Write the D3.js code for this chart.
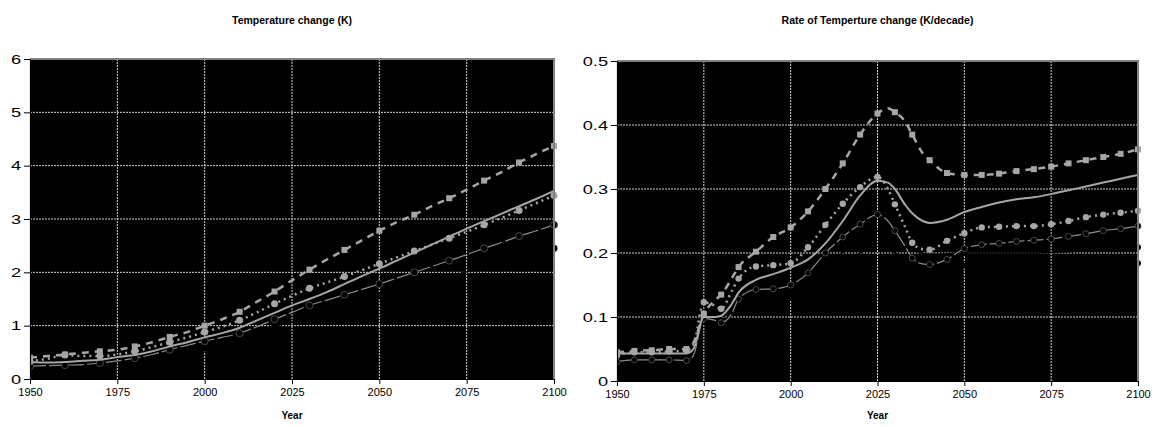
<!DOCTYPE html>
<html>
<head>
<meta charset="utf-8">
<script src="https://cdn.jsdelivr.net/npm/d3@7"></script>
<style>
  body { margin: 0; background: #fff; }
  svg { display: block; font-family: "Liberation Sans", Arial, sans-serif; }
</style>
</head>
<body>
<svg id="chart" width="1155" height="427"></svg>
<script>
// ---- Daten: Temperaturänderung (K), 5-Jahres-Schritte
const tempYears = [1950,1955,1960,1965,1970,1975,1980,1985,1990,1995,2000,2005,2010,2015,2020,2025,
  2030,2035,2040,2045,2050,2055,2060,2065,2070,2075,2080,2085,2090,2095,2100];
const tempDashSquares = [0.40,0.43,0.46,0.49,0.52,0.55,0.61,0.69,0.79,0.88,1.00,1.12,1.26,1.45,1.64,1.85,
  2.05,2.24,2.42,2.60,2.78,2.94,3.08,3.24,3.39,3.55,3.72,3.88,4.06,4.22,4.37];
const tempDotCircles = [0.33,0.38,0.45,0.43,0.43,0.46,0.52,0.60,0.69,0.78,0.88,0.98,1.10,1.25,1.41,1.56,
  1.70,1.81,1.92,2.04,2.16,2.28,2.40,2.52,2.64,2.76,2.89,3.02,3.16,3.30,3.44];
const tempSolid = [0.32,0.31,0.32,0.34,0.36,0.41,0.45,0.52,0.61,0.69,0.78,0.86,0.96,1.10,1.24,1.38,
  1.50,1.63,1.78,1.93,2.07,2.22,2.37,2.52,2.67,2.82,2.96,3.10,3.24,3.38,3.53];
const tempLongDash = [0.24,0.25,0.26,0.27,0.30,0.34,0.39,0.46,0.55,0.63,0.71,0.78,0.86,0.98,1.12,1.25,
  1.38,1.48,1.58,1.68,1.78,1.89,2.00,2.11,2.22,2.33,2.45,2.56,2.68,2.78,2.89];
const tempBlackYears = [1950,1960,1970,1980,1990,2000,2010,2020,2030,2040,2050,2060,2070,2080,2090,2100];
const tempBlack = [0.25,0.27,0.30,0.36,0.45,0.58,0.76,0.98,1.16,1.36,1.56,1.74,1.92,2.10,2.28,2.45];

// ---- Daten: Rate der Temperaturänderung (K/decade)
const rateYears = [1950,1955,1960,1965,1970,1972,1975,1978,1980,1983,1985,1990,1995,2000,2005,2010,2015,2020,
  2025,2028,2030,2033,2035,2038,2040,2045,2050,2055,2060,2065,2070,2075,2080,2085,2090,2095,2100];
const rateDashSquares = [0.045,0.047,0.048,0.050,0.050,0.060,0.105,0.125,0.135,0.160,0.178,0.202,0.225,0.240,0.265,0.300,0.340,0.385,
  0.418,0.426,0.420,0.405,0.385,0.356,0.345,0.325,0.322,0.322,0.324,0.328,0.331,0.335,0.340,0.345,0.350,0.355,0.362];
const rateDotCircles = [0.040,0.045,0.045,0.046,0.048,0.056,0.123,0.118,0.113,0.140,0.160,0.179,0.181,0.184,0.209,0.244,0.277,0.303,
  0.319,0.300,0.276,0.240,0.216,0.206,0.205,0.219,0.231,0.240,0.241,0.242,0.242,0.245,0.250,0.256,0.260,0.263,0.266];
const rateSolid = [0.043,0.043,0.043,0.043,0.043,0.050,0.100,0.100,0.102,0.120,0.138,0.158,0.167,0.177,0.190,0.215,0.250,0.290,
  0.313,0.310,0.300,0.275,0.262,0.250,0.247,0.252,0.264,0.272,0.279,0.284,0.287,0.292,0.298,0.304,0.310,0.316,0.322];
const rateLongDash = [0.030,0.033,0.033,0.033,0.032,0.040,0.098,0.095,0.091,0.105,0.128,0.143,0.144,0.150,0.169,0.200,0.225,0.245,
  0.260,0.250,0.235,0.210,0.192,0.183,0.182,0.190,0.207,0.213,0.215,0.218,0.220,0.222,0.226,0.230,0.235,0.238,0.242];
const rateBlackYears = [1950,1960,1970,1975,1980,1990,2000,2010,2020,2025,2030,2040,2050,2060,2070,2080,2090,2100];
const rateBlackA = [0.028,0.030,0.030,0.095,0.100,0.130,0.140,0.180,0.220,0.235,0.220,0.198,0.200,0.200,0.200,0.202,0.205,0.209];
const rateBlackB = [0.028,0.029,0.029,0.090,0.095,0.120,0.130,0.165,0.200,0.215,0.200,0.175,0.180,0.180,0.181,0.182,0.183,0.184];

const xTicks = [1950, 1975, 2000, 2025, 2050, 2075, 2100];
const tempTicks = [0, 1, 2, 3, 4, 5, 6];
const rateTicks = [0, 0.1, 0.2, 0.3, 0.4, 0.5];

const svg = d3.select("#chart");
const grey = "#a6a6a6";

function drawPanel(cfg) {
  const { left, right, top, bottom, yMax, yTicks, title, series, markEvery, id } = cfg;

  const x = d3.scaleLinear().domain([1950, 2100]).range([left, right]);
  const y = d3.scaleLinear().domain([0, yMax]).range([bottom, top]);

  const g = svg.append("g");

  // Plotfläche schwarz
  g.append("rect")
    .attr("x", left).attr("y", top)
    .attr("width", right - left).attr("height", bottom - top)
    .attr("fill", "#000");

  // Gitter
  g.append("g").selectAll("line")
    .data(xTicks.slice(1, -1))
    .enter().append("line")
      .attr("x1", d => x(d)).attr("x2", d => x(d))
      .attr("y1", top).attr("y2", bottom)
      .attr("stroke", "#d4d4d4").attr("stroke-dasharray", "2,1");

  g.append("g").selectAll("line")
    .data(yTicks.slice(1, -1))
    .enter().append("line")
      .attr("x1", left).attr("x2", right)
      .attr("y1", d => y(d)).attr("y2", d => y(d))
      .attr("stroke", "#d4d4d4").attr("stroke-dasharray", "2,1");

  // Clip
  svg.append("clipPath").attr("id", "clip-" + id)
    .append("rect")
      .attr("x", left).attr("y", top - 2)
      .attr("width", right - left + 4).attr("height", bottom - top + 4);

  const plot = g.append("g").attr("clip-path", `url(#clip-${id})`);

  series.forEach(s => {
    const pts = s.years.map((yr, i) => ({ yr, v: s.values[i] }));
    const line = d3.line()
      .x(d => x(d.yr)).y(d => y(d.v))
      .curve(d3.curveMonotoneX);

    plot.append("path")
      .datum(pts)
      .attr("fill", "none")
      .attr("stroke", s.color)
      .attr("stroke-width", s.width)
      .attr("stroke-dasharray", s.dash || null)
      .attr("d", line);

    const marks = pts.filter(d => (d.yr - 1950) % (s.every || markEvery) === 0);
    if (s.marker === "square") {
      plot.append("g").selectAll("rect")
        .data(marks).enter().append("rect")
          .attr("x", d => x(d.yr) - 3).attr("y", d => y(d.v) - 3)
          .attr("width", 6).attr("height", 6)
          .attr("fill", s.color);
    } else if (s.marker) {
      plot.append("g").selectAll("circle")
        .data(marks).enter().append("circle")
          .attr("cx", d => x(d.yr)).attr("cy", d => y(d.v))
          .attr("r", s.r || 3.5)
          .attr("fill", s.marker === "open" ? "#000" : s.color)
          .attr("stroke", s.marker === "open" ? "#4a4a4a" : "none")
          .attr("stroke-width", 1);
    }
  });

  // Rahmen oben/rechts
  g.append("path")
    .attr("d", `M${left},${top}H${right}V${bottom}`)
    .attr("fill", "none")
    .attr("stroke", "#808080")
    .attr("stroke-width", 2);

  // Achsen
  const yAxis = g.append("g")
    .attr("transform", `translate(${left},0)`)
    .call(d3.axisLeft(y).tickValues(yTicks).tickSize(6).tickPadding(3)
      .tickFormat(d => d3.format("")(d)).tickSizeOuter(0));

  const xAxis = g.append("g")
    .attr("transform", `translate(0,${bottom})`)
    .call(d3.axisBottom(x).tickValues(xTicks).tickSize(5).tickPadding(4)
      .tickFormat(d3.format("d")).tickSizeOuter(0));

  [yAxis, xAxis].forEach(a => {
    a.select(".domain").attr("stroke", "#000").attr("stroke-width", 1.2);
    a.selectAll(".tick line").attr("stroke", "#000");
    a.selectAll("text").attr("fill", "#000").attr("font-family", "Liberation Sans, Arial, sans-serif");
  });

  xAxis.selectAll("text").attr("font-size", "11px");
  // y-Beschriftung im Original breiter gezogen
  yAxis.selectAll("text").attr("font-size", "13px").each(function () {
    const w = this.getComputedTextLength();
    d3.select(this).attr("textLength", w * 1.4).attr("lengthAdjust", "spacingAndGlyphs");
  });

  const cx = (left + right) / 2;
  g.append("text")
    .attr("x", cx).attr("y", 24)
    .attr("text-anchor", "middle")
    .attr("font-size", "10.5px").attr("font-weight", "bold")
    .text(title);

  g.append("text")
    .attr("x", cx).attr("y", 419)
    .attr("text-anchor", "middle")
    .attr("font-size", "10px").attr("font-weight", "bold")
    .text("Year");
}

drawPanel({
  id: "temp",
  left: 30, right: 554, top: 59, bottom: 379,
  yMax: 6, yTicks: tempTicks,
  title: "Temperature change (K)",
  markEvery: 10,
  series: [
    { years: tempBlackYears, values: tempBlack, color: "#000", width: 1.5, marker: "filled-black", r: 3.5 },
    { years: tempYears, values: tempLongDash, color: "#8c8c8c", width: 1.2, dash: "16,3", marker: "open", r: 3.5 },
    { years: tempYears, values: tempSolid, color: grey, width: 2 },
    { years: tempYears, values: tempDotCircles, color: grey, width: 2.5, dash: "2,4", marker: "circle", r: 3.5 },
    { years: tempYears, values: tempDashSquares, color: grey, width: 2.5, dash: "7,6", marker: "square" }
  ].map(s => s.marker === "filled-black" ? Object.assign(s, { marker: "circle" }) : s)
});

drawPanel({
  id: "rate",
  left: 617, right: 1138, top: 61, bottom: 381,
  yMax: 0.5, yTicks: rateTicks,
  title: "Rate of Temperture change (K/decade)",
  markEvery: 5,
  series: [
    { years: rateBlackYears, values: rateBlackA, color: "#000", width: 1.5, marker: "circle", r: 3, every: 50 },
    { years: rateBlackYears, values: rateBlackB, color: "#000", width: 1.5, marker: "circle", r: 3, every: 50 },
    { years: rateYears, values: rateLongDash, color: "#8c8c8c", width: 1.2, dash: "16,3", marker: "open", r: 3 },
    { years: rateYears, values: rateSolid, color: grey, width: 2 },
    { years: rateYears, values: rateDotCircles, color: grey, width: 2.5, dash: "2,4", marker: "circle", r: 3.2 },
    { years: rateYears, values: rateDashSquares, color: grey, width: 2.5, dash: "7,6", marker: "square" }
  ]
});
</script>
</body>
</html>
